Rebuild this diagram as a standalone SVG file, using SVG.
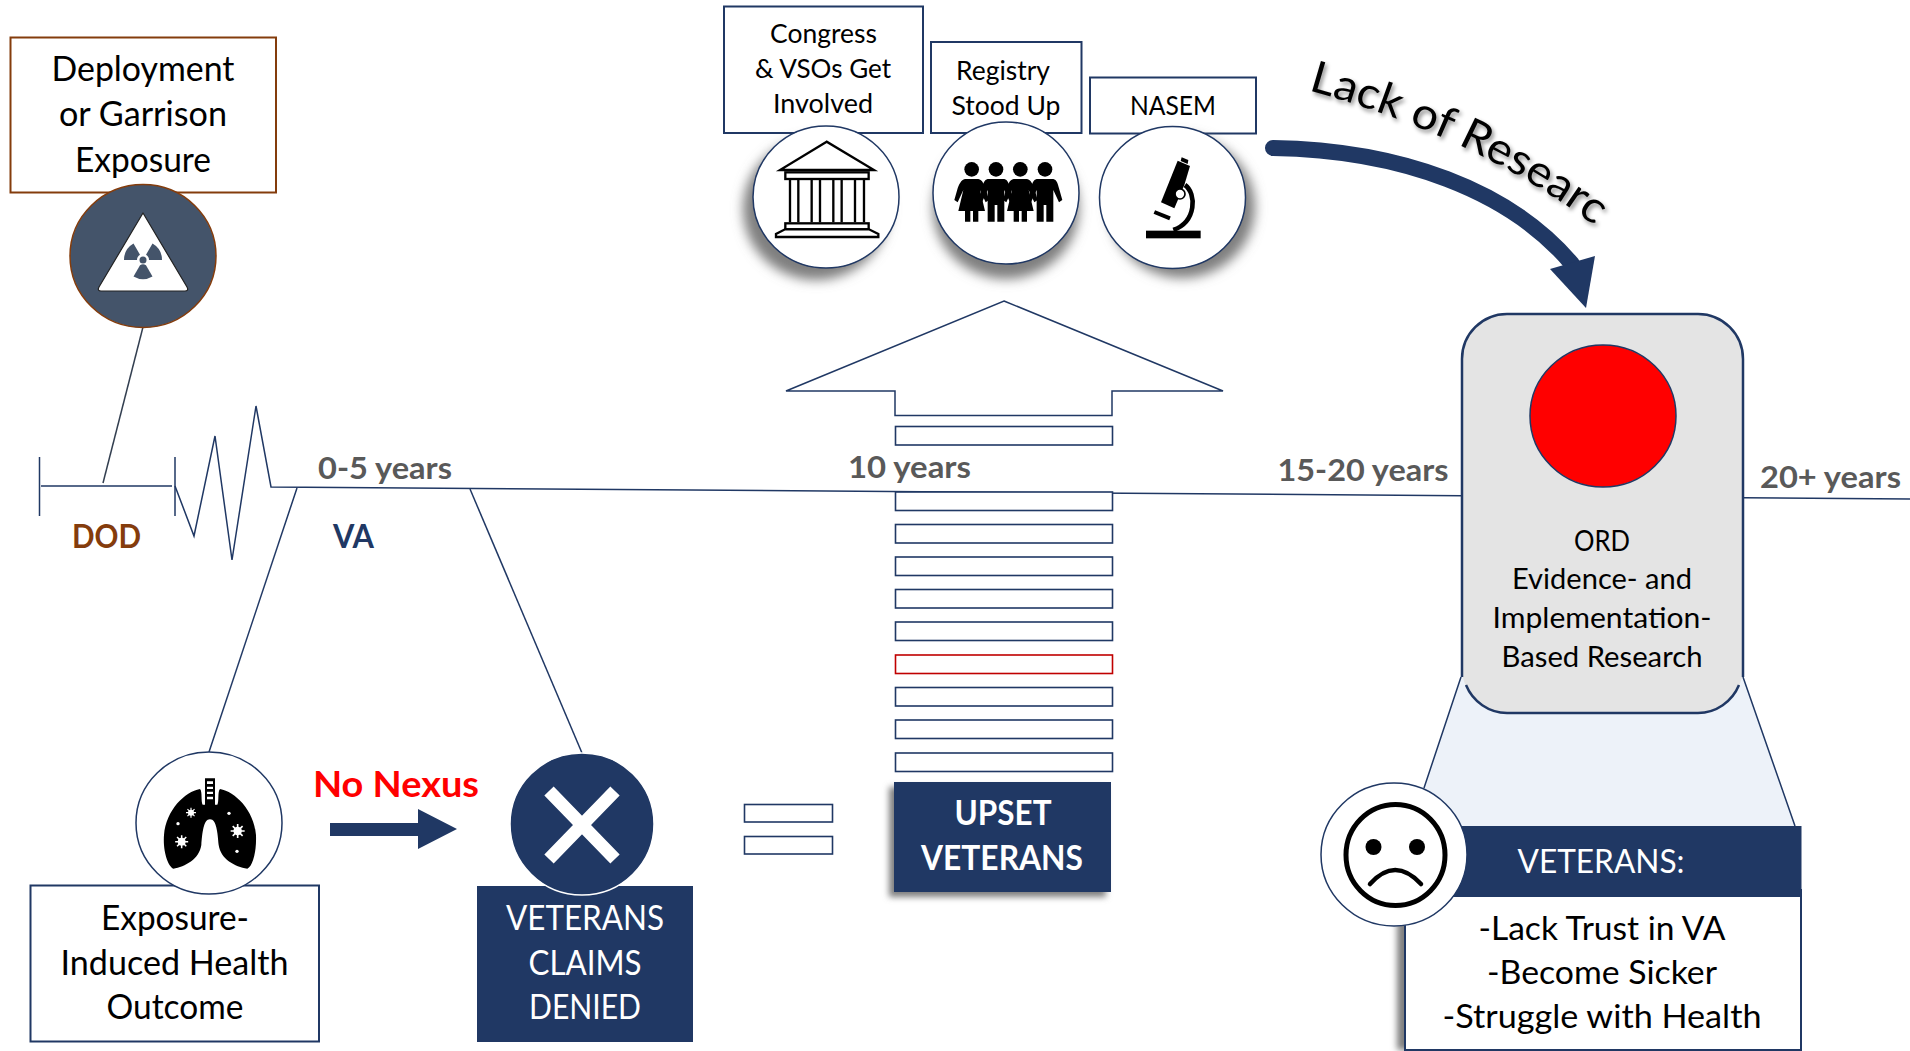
<svg xmlns="http://www.w3.org/2000/svg" xmlns:xlink="http://www.w3.org/1999/xlink" width="1910" height="1051" viewBox="0 0 1910 1051">
<style>
text{font-family:"Lato","Carlito","Open Sans",sans-serif;text-anchor:middle;fill:#000}
.t26{font-size:26.5px}.t34{font-size:34px}.t29{font-size:29.5px}.t33{font-size:33.5px}
.w{fill:#fff}.b{font-weight:700}
.yr{font-size:30px;font-weight:700;fill:#595959}
.box{fill:#fff;stroke:#203864;stroke-width:2}
.row{fill:#fff;stroke:#203864;stroke-width:1.6}
.nav{fill:#203864}
.circ{fill:#fff;stroke:#203864;stroke-width:1.5}
.ln{fill:none;stroke:#203864;stroke-width:1.5}
.sh{fill:#7f7f7f;filter:url(#blur)}
.blade{fill:#44546A}
</style>
<defs>
<filter id="blur" x="-30%" y="-30%" width="160%" height="160%"><feGaussianBlur stdDeviation="6"/></filter>
<filter id="blur2" x="-30%" y="-30%" width="160%" height="160%"><feGaussianBlur stdDeviation="3"/></filter>
<filter id="txs" x="-10%" y="-20%" width="120%" height="140%"><feDropShadow dx="2" dy="3" stdDeviation="2" flood-color="#000" flood-opacity=".45"/></filter>
<path id="curve" d="M1308 90Q1480 138 1599 229"/>
<path id="male" d="M-25 72H25C35 74 38 85 42 100L52 135 42 142 25 105V200H4V150H-4V200H-25V105L-42 142-52 135-42 100C-38 85-35 74-25 72Z"/>
<path id="female" d="M-20 72H20C32 74 38 90 42 100L52 135 42 142 25 105 40 168H20V200H4V168H-4V200H-20V168H-40L-25 105-42 142-52 135-42 100C-38 90-32 74-20 72Z"/>
<g id="virus"><circle r="9" fill="#fff"/><path d="M0-15V15M-15 0H15M-10.600-10.600 10.600 10.600M-10.600 10.600 10.600-10.600" stroke="#fff" stroke-width="3.500"/></g>
</defs>

<g id="connectors">
<path class="ln" d="M39.500 457V516M41 486H172M175 457V516"/>
<path class="ln" d="M175 486L194 536 215 436 232 560 256 406 271 487 1910 499"/>
<path fill="none" stroke="#333F50" stroke-width="1.500" d="M143 327L103 483"/>
<path class="ln" d="M297 488L209 752"/>
<path class="ln" d="M470 489L582 753"/>
</g>

<g id="deployment">
<rect x="10.500" y="37.500" width="265.500" height="155" fill="#fff" stroke="#843C0C" stroke-width="2"/>
<text class="t34" x="143" y="81" textLength="183" lengthAdjust="spacingAndGlyphs">Deployment</text>
<text class="t34" x="143" y="126" textLength="168" lengthAdjust="spacingAndGlyphs">or Garrison</text>
<text class="t34" x="143" y="172" textLength="136" lengthAdjust="spacingAndGlyphs">Exposure</text>
</g>
<g id="exposure-icon">
<ellipse cx="143" cy="256" rx="73" ry="71.500" fill="#44546A" stroke="#843C0C" stroke-width="1.500"/>
<path d="M143 213L187 287Q189 291 185 291H101Q97 291 99 287Z" fill="#fff" stroke="#222" stroke-width="1.200" stroke-linejoin="round"/>
<path class="blade" d="M124 260A19 19 0 0 1 133.500 243.500L140 254.800A6 6 0 0 0 137 260Z"/>
<path class="blade" d="M162 260A19 19 0 0 0 152.500 243.500L146 254.800A6 6 0 0 1 149 260Z"/>
<path class="blade" d="M133.500 276.500A19 19 0 0 0 152.500 276.500L146 265.200A6 6 0 0 0 140 265.200Z"/>
<circle class="blade" cx="143" cy="260" r="3.500"/>
</g>
<text id="dod" class="b" x="106.500" y="548" font-size="32" fill="#843C0C" style="fill:#843C0C" textLength="69" lengthAdjust="spacingAndGlyphs">DOD</text>
<text id="va" class="b" x="353.500" y="548" font-size="32" style="fill:#203864" textLength="41" lengthAdjust="spacingAndGlyphs">VA</text>
<text id="y0" class="yr" x="385" y="479" textLength="134" lengthAdjust="spacingAndGlyphs">0-5 years</text>
<text id="y10" class="yr" x="909.500" y="478" textLength="123" lengthAdjust="spacingAndGlyphs">10 years</text>
<text id="y15" class="yr" x="1363" y="481" textLength="171" lengthAdjust="spacingAndGlyphs">15-20 years</text>
<text id="y20" class="yr" x="1830.500" y="488" textLength="141" lengthAdjust="spacingAndGlyphs">20+ years</text>

<g id="congress">
<rect class="box" x="724" y="6.500" width="199" height="126.500"/>
<text class="t26" x="823.500" y="43" textLength="107" lengthAdjust="spacingAndGlyphs">Congress</text>
<text class="t26" x="823" y="78" textLength="136" lengthAdjust="spacingAndGlyphs">&amp; VSOs Get</text>
<text class="t26" x="823" y="113" textLength="100" lengthAdjust="spacingAndGlyphs">Involved</text>
<ellipse class="sh" cx="816" cy="209" rx="73" ry="71"/>
<ellipse class="circ" cx="826" cy="197" rx="73" ry="71"/>
<g fill="#fff" stroke="#000" stroke-width="2.200" transform="translate(770 135) scale(.3333)" style="stroke-width:7">
<path d="M170 20L30 105H312Z"/>
<rect x="46" y="112" width="250" height="20"/>
<path d="M60 132V262M85 132V262M125 132V262M150 132V262M190 132V262M215 132V262M255 132V262M282 132V262"/>
<rect x="46" y="265" width="250" height="18"/>
<path d="M45 283H297L325 297V306H18V297Z"/>
</g>
</g>
<g id="registry">
<rect class="box" x="931" y="42" width="150.500" height="91"/>
<text class="t26" x="1003" y="80" textLength="94" lengthAdjust="spacingAndGlyphs">Registry</text>
<text class="t26" x="1006" y="115" textLength="109" lengthAdjust="spacingAndGlyphs">Stood Up</text>
<ellipse class="sh" cx="1006" cy="208" rx="73" ry="71"/>
<ellipse class="circ" cx="1006" cy="193" rx="73" ry="71"/>
<g transform="translate(950 155) scale(.3333)">
<circle cx="65" cy="43" r="22"/><circle cx="138" cy="43" r="22"/><circle cx="211" cy="43" r="22"/><circle cx="285" cy="43" r="22"/>
<use href="#female" x="65"/><use href="#male" x="138"/><use href="#female" x="211"/><use href="#male" x="285"/>
</g>
</g>
<g id="nasem">
<rect class="box" x="1090" y="77.500" width="166" height="56"/>
<text class="t26" x="1173" y="115" textLength="86" lengthAdjust="spacingAndGlyphs">NASEM</text>
<ellipse class="sh" cx="1182" cy="207" rx="73" ry="71"/>
<ellipse class="circ" cx="1172.500" cy="197.500" rx="73" ry="71"/>
<g transform="translate(1135 150) scale(.3333)">
<rect x="33" y="242" width="164" height="23"/>
<path d="M128 32L165 48 148 105 118 175 78 157Z"/>
<path d="M140 22L160 30 158 42 137 33Z"/>
<path d="M150 105C185 130 185 215 115 240" fill="none" stroke="#000" stroke-width="14"/>
<circle cx="135" cy="132" r="15" fill="#fff" stroke="#000" stroke-width="5"/>
<path d="M58 186L105 205" stroke="#000" stroke-width="12"/>
</g>
</g>

<g id="lack-of-research">
<path d="M1273 148C1400 150 1510 190 1572 264" fill="none" stroke="#203864" stroke-width="16" stroke-linecap="round"/>
<path class="nav" d="M1550 269L1595 256 1586 308Z"/>
<text font-size="44" filter="url(#txs)" style="text-anchor:start" letter-spacing="0"><textPath href="#curve" textLength="345" lengthAdjust="spacingAndGlyphs">Lack of Research</textPath></text>
</g>

<g id="up-arrow">
<path d="M1004 301L1223 391H1112V415.500H895V391H786Z" fill="#fff" stroke="#203864" stroke-width="1.500"/>
</g>
<g id="stack">
<rect class="row" x="895.500" y="426.500" width="217" height="18.500"/>
<rect class="row" x="895.500" y="492" width="217" height="18.500"/>
<rect class="row" x="895.500" y="524.500" width="217" height="18.500"/>
<rect class="row" x="895.500" y="557" width="217" height="18.500"/>
<rect class="row" x="895.500" y="589.500" width="217" height="18.500"/>
<rect class="row" x="895.500" y="622" width="217" height="18.500"/>
<rect class="row" x="895.500" y="655" width="217" height="18.500" style="stroke:#C00000"/>
<rect class="row" x="895.500" y="687.500" width="217" height="18.500"/>
<rect class="row" x="895.500" y="720" width="217" height="18.500"/>
<rect class="row" x="895.500" y="753" width="217" height="18.500"/>
</g>
<g id="equals">
<rect class="row" x="744.500" y="804.500" width="88" height="17.500"/>
<rect class="row" x="744.500" y="836.500" width="88" height="17.500"/>
</g>
<g id="upset">
<rect x="889" y="787" width="217" height="110" fill="#7f7f7f" filter="url(#blur2)"/>
<rect class="nav" x="894" y="782" width="217" height="110"/>
<text class="t34 w b" x="1003" y="825" textLength="97" lengthAdjust="spacingAndGlyphs">UPSET</text>
<text class="t34 w b" x="1002" y="870" textLength="162" lengthAdjust="spacingAndGlyphs">VETERANS</text>
</g>

<g id="outcome">
<rect class="box" x="30.500" y="885.500" width="288.500" height="156"/>
<text class="t34" x="175" y="930" textLength="148" lengthAdjust="spacingAndGlyphs">Exposure-</text>
<text class="t34" x="174.500" y="975" textLength="228" lengthAdjust="spacingAndGlyphs">Induced Health</text>
<text class="t34" x="175" y="1019" textLength="137" lengthAdjust="spacingAndGlyphs">Outcome</text>
<ellipse class="circ" cx="209" cy="823" rx="73" ry="71"/>
<g transform="translate(160 770) scale(.3333)">
<path d="M120 57C75 65 18 120 12 195 8 245 25 290 40 296 75 290 118 268 124 225 127 190 130 148 150 148 170 148 173 190 176 225 182 268 225 290 262 296 278 290 290 245 288 195 282 120 225 65 180 57 172 65 178 95 172 104H165V25H135V104H128C122 95 128 65 120 57Z"/>
<path d="M141 27V90H159V27ZM141 42H159M141 56H159M141 70H159" fill="none" stroke="#fff" stroke-width="0"/>
<path d="M141 34H159V42H141ZM141 50H159V57H141ZM141 65H159V72H141ZM141 80H159V88H141Z" fill="#fff"/>
<use href="#virus" x="93" y="128"/>
<use href="#virus" transform="translate(233 183) scale(1.400)"/>
<use href="#virus" transform="translate(65 215) scale(1.300)"/>
<circle cx="54" cy="161" r="5" fill="#fff"/><circle cx="207" cy="130" r="5" fill="#fff"/><circle cx="231" cy="244" r="5" fill="#fff"/>
</g>
</g>
<text id="no-nexus" class="b" x="396" y="797" font-size="37" style="fill:#f00" textLength="166" lengthAdjust="spacingAndGlyphs">No Nexus</text>
<g id="nexus-arrow"><path class="nav" d="M330 823H418V809L457 829 418 849V836H330Z"/></g>
<g id="denied">
<rect class="nav" x="477" y="886" width="216" height="156"/>
<text class="t34 w" x="585" y="930" textLength="158" lengthAdjust="spacingAndGlyphs">VETERANS</text>
<text class="t34 w" x="585" y="975" textLength="113" lengthAdjust="spacingAndGlyphs">CLAIMS</text>
<text class="t34 w" x="585" y="1019" textLength="112" lengthAdjust="spacingAndGlyphs">DENIED</text>
<ellipse class="nav" cx="582" cy="824" rx="72" ry="71" stroke="#fff" stroke-width="1.500"/>
<path d="M549 791L615 859M615 791L549 859" stroke="#fff" stroke-width="13" fill="none"/>
</g>

<g id="veterans">
<path d="M1461 677L1424 788V830H1795V826L1743 677Z" fill="#EDF2F9"/>
<path class="ln" d="M1461 677L1424 788M1743 677L1795 826"/>
<path d="M1405 897H1801V1050H1405Z" fill="#7f7f7f" transform="translate(-8 0)" filter="url(#blur2)"/>
<rect class="box" x="1405" y="890" width="396" height="160"/>
<rect class="nav" x="1400" y="826" width="401.500" height="71"/>
<text class="t33 w" x="1601" y="873" textLength="167" lengthAdjust="spacingAndGlyphs">VETERANS:</text>
<text class="t33" x="1602" y="940" textLength="247" lengthAdjust="spacingAndGlyphs">-Lack Trust in VA</text>
<text class="t33" x="1602" y="984" textLength="230" lengthAdjust="spacingAndGlyphs">-Become Sicker</text>
<text class="t33" x="1602" y="1028" textLength="319" lengthAdjust="spacingAndGlyphs">-Struggle with Health</text>
<ellipse class="circ" cx="1394" cy="854.500" rx="73" ry="71.500"/>
<ellipse cx="1395.500" cy="855" rx="49.500" ry="50.500" fill="none" stroke="#000" stroke-width="5"/>
<ellipse cx="1373.500" cy="847" rx="8" ry="8"/><ellipse cx="1417" cy="847" rx="8" ry="8"/>
<path d="M1370 884Q1395 856 1421 884" fill="none" stroke="#000" stroke-width="4.500" stroke-linecap="round"/>
</g>

<g id="ord">
<path d="M1507 314H1698A45 45 0 0 1 1743 359V668A45 45 0 0 1 1698 713H1507A45 45 0 0 1 1462 668V359A45 45 0 0 1 1507 314Z" fill="#E4E4E4"/>
<path d="M1462 677V359A45 45 0 0 1 1507 314H1698A45 45 0 0 1 1743 359V677" fill="none" stroke="#203864" stroke-width="2.500"/>
<path d="M1466 685A45 45 0 0 0 1507 713H1698A45 45 0 0 0 1739 685" fill="none" stroke="#203864" stroke-width="2.500"/>
<ellipse cx="1603" cy="416" rx="73" ry="71" fill="#f00" stroke="#203864" stroke-width="1.500"/>
<text class="t29" x="1602" y="551" textLength="56" lengthAdjust="spacingAndGlyphs">ORD</text>
<text class="t29" x="1602" y="589" textLength="180" lengthAdjust="spacingAndGlyphs">Evidence- and</text>
<text class="t29" x="1602" y="628" textLength="219" lengthAdjust="spacingAndGlyphs">Implementation-</text>
<text class="t29" x="1602" y="667" textLength="201" lengthAdjust="spacingAndGlyphs">Based Research</text>
</g>
</svg>
